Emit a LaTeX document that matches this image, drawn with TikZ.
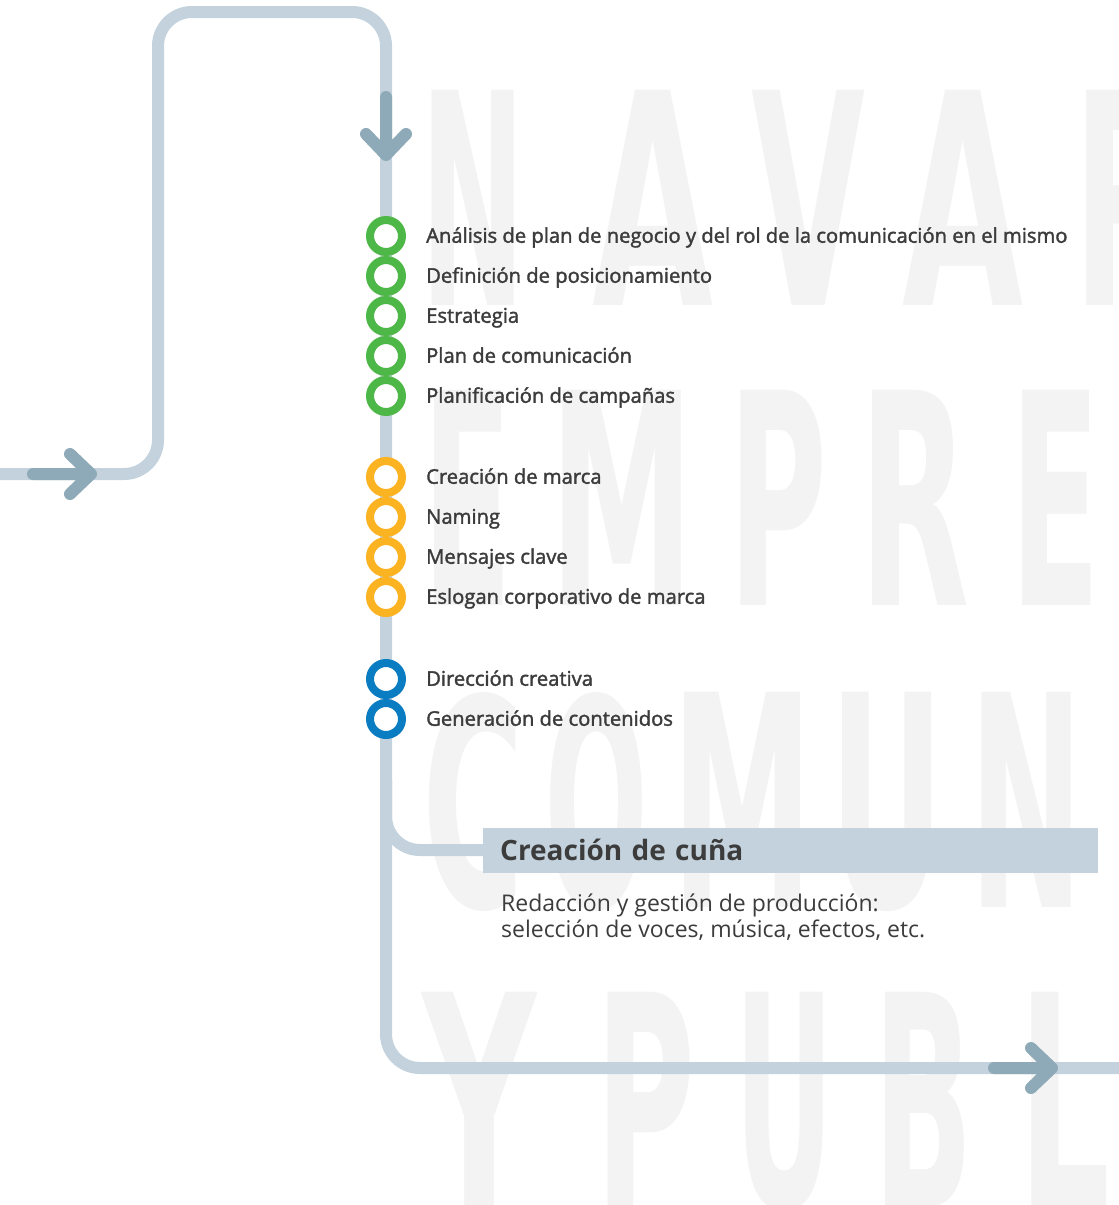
\documentclass[tikz,border=0pt]{standalone}
\usepackage{graphicx}
\usepackage{fontspec}
\setmainfont{Open Sans}
\newfontfamily\stepfont[FakeBold=1.8]{Open Sans}
\newfontfamily\ghostfont{DejaVu Sans}
\usepackage{tikz}
\usetikzlibrary{positioning,calc}
\definecolor{railblue}{HTML}{C3D2DC}
\definecolor{arrowblue}{HTML}{8EAAB8}
\definecolor{stepgreen}{HTML}{4DB848}
\definecolor{steporange}{HTML}{FBB321}
\definecolor{stepblue}{HTML}{0A7DC2}
\definecolor{textgray}{HTML}{3C3C3C}
\definecolor{ghostgray}{HTML}{F3F3F3}

\begin{document}
\begin{tikzpicture}[x=1pt,y=-1pt,
  rail/.style={line width=12pt,draw=railblue,line cap=round,rounded corners=34pt},
  arrowpen/.style={line width=12pt,draw=arrowblue,line cap=round,line join=round},
  ring/.style={circle,draw,line width=8pt,fill=white,minimum size=32pt,inner sep=0pt},
  steptext/.style={anchor=west,inner sep=0pt,text height=17pt,text depth=3.5pt,text=textgray,
    font=\stepfont\fontsize{20.2}{22}\selectfont},
  ghost/.style={anchor=base west,inner sep=0pt,text=ghostgray,font=\ghostfont\bfseries},
  cunabox/.style={anchor=west,fill=railblue,minimum height=45pt,text width=581pt,inner xsep=17pt,
    inner ysep=0pt,align=left,text=textgray,font=\bfseries\fontsize{28}{30}\selectfont},
  desctext/.style={anchor=north west,inner sep=0pt,align=left,text=textgray,
    font=\fontsize{23}{26}\selectfont},
  pics/flowarrow/.style={code={
    \draw[arrowpen] (-58,0) -- (0,0) (-21,-20) -- (0,0) -- (-21,20);}}
]
  \useasboundingbox (0,0) rectangle (1119,1205);
  \clip (0,0) rectangle (1119,1205);
  \fill[white] (0,0) rectangle (1119,1205);

  % big pale lettering behind everything
  \foreach \c/\l/\w/\b [count=\k] in {
      N/420/105/305, A/592/121/305, V/751/114/305, A/902/121/305, R/1073/110/305,
      E/422/90/605, M/549/145/605, P/728/99/605, R/859/110/605, E/1010/90/605,
      C/422/102/907, O/544/104/907, M/671/142/907, U/829/115/907, N/969/114/907, I/1116/32/907,
      Y/422/114/1207, P/595/100/1207, U/734/100/1207, B/873/100/1207, L/1018/92/1207}
    \node[ghost] (ghost\k) at (\l,\b) {\resizebox{\w pt}{215pt}{\c}};

  % the track
  \coordinate (in) at (-10,474);
  \coordinate (turnA) at (158,12);
  \coordinate (turnB) at (386,1068);
  \coordinate (out) at (1130,1068);
  \coordinate (split) at (386,780);
  \draw[rail] (in) -| (turnA) -| (turnB) -- (out);

  \node[cunabox] (cuna) at (483,850) {Creación de cuña};
  \draw[rail,line cap=butt] (split) |- (cuna.west);
  \node[desctext] (cunadesc) at (501,894)
    {Redacción y gestión de producción:\\ selección de voces, música, efectos, etc.};

  \pic (inarrow) at (91,474) {flowarrow};
  \pic[rotate=-90] (downarrow) at (386,155) {flowarrow};
  \pic (outarrow) at (1052,1068) {flowarrow};

  % stops
  \node[ring,draw=stepgreen] (g1) at (386,236) {};
  \node[ring,draw=stepgreen,below=0pt of g1] (g2) {};
  \node[ring,draw=stepgreen,below=0pt of g2] (g3) {};
  \node[ring,draw=stepgreen,below=0pt of g3] (g4) {};
  \node[ring,draw=stepgreen,below=0pt of g4] (g5) {};
  \node[ring,draw=steporange,below=41pt of g5] (o1) {};
  \node[ring,draw=steporange,below=0pt of o1] (o2) {};
  \node[ring,draw=steporange,below=0pt of o2] (o3) {};
  \node[ring,draw=steporange,below=0pt of o3] (o4) {};
  \node[ring,draw=stepblue,below=42pt of o4] (b1) {};
  \node[ring,draw=stepblue,below=0pt of b1] (b2) {};

  \node[steptext,right=20pt of g1] (tg1) {Análisis de plan de negocio y del rol de la comunicación en el mismo};
  \node[steptext,right=20pt of g2] (tg2) {Definición de posicionamiento};
  \node[steptext,right=20pt of g3] (tg3) {Estrategia};
  \node[steptext,right=20pt of g4] (tg4) {Plan de comunicación};
  \node[steptext,right=20pt of g5] (tg5) {Planificación de campañas};
  \node[steptext,right=20pt of o1] (to1) {Creación de marca};
  \node[steptext,right=20pt of o2] (to2) {Naming};
  \node[steptext,right=20pt of o3] (to3) {Mensajes clave};
  \node[steptext,right=20pt of o4] (to4) {Eslogan corporativo de marca};
  \node[steptext,right=20pt of b1] (tb1) {Dirección creativa};
  \node[steptext,right=20pt of b2] (tb2) {Generación de contenidos};
\end{tikzpicture}
\end{document}
